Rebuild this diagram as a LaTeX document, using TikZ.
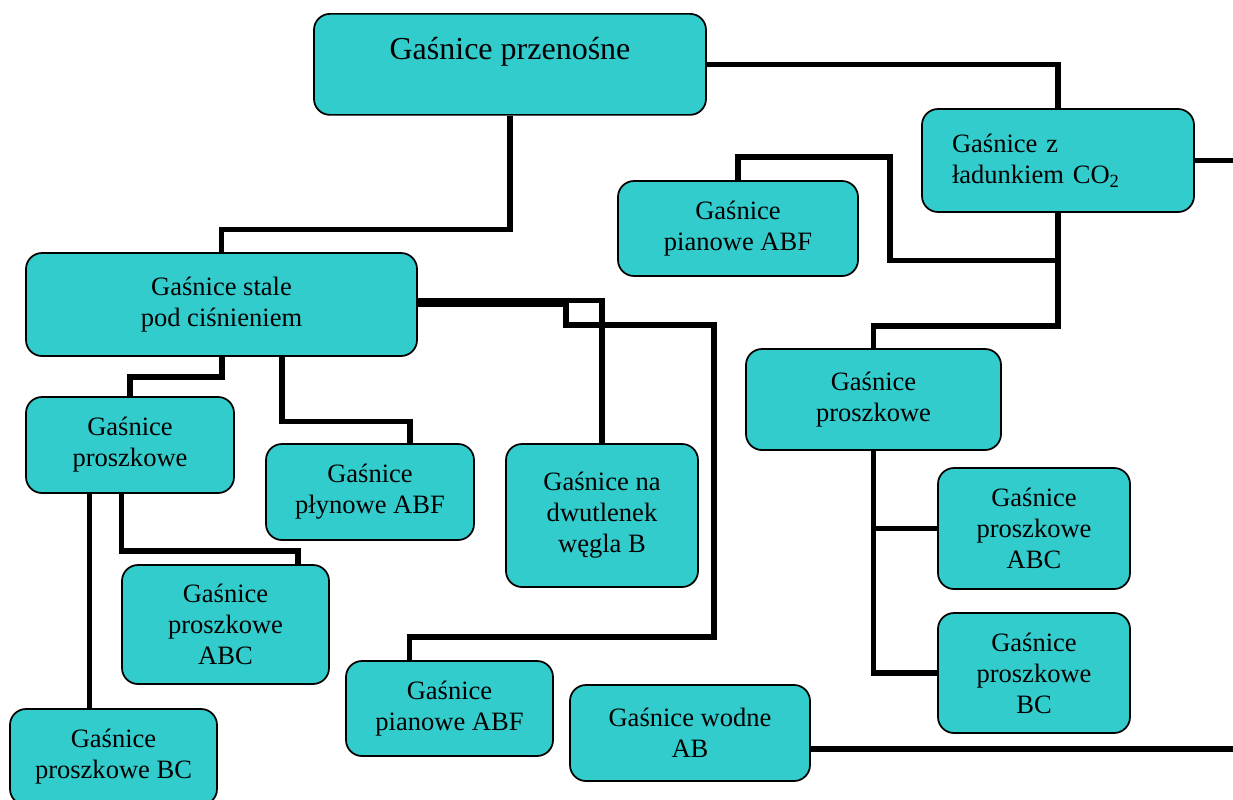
\documentclass[tikz,border=0pt]{standalone}
\usepackage{fontspec}
\setmainfont{Liberation Serif}
\definecolor{boxfill}{RGB}{51,204,204}
\pgfdeclarelayer{bg}
\pgfsetlayers{bg,main}
\begin{document}
\begin{tikzpicture}[x=0.75pt,y=-0.75pt,
  box/.style={draw=black, line width=1.3pt, fill=boxfill, rounded corners=12pt,
    align=center, inner sep=0pt, font=\fontsize{19.9}{23.25}\selectfont},
  conn/.style={draw=black, line width=4.1pt}]
\useasboundingbox (0,0) rectangle (1233,800);

% boxes
\node[box, anchor=north, minimum width=392*0.75pt, text height=34.5pt, text depth=41.25pt,
  font=\fontsize{24}{28}\selectfont] (t) at (510,13) {Gaśnice przenośne};
\node[box, minimum width=272*0.75pt, minimum height=103*0.75pt, align=left,
  text width=212*0.75pt, inner xsep=22.5pt] (co) at (1058,160.5)
  {Gaśnice z\\ładunkiem CO\textsubscript{2}};
\node[box, minimum width=240*0.75pt, minimum height=95*0.75pt] (pt) at (738,228.5) {Gaśnice\\pianowe ABF};
\node[box, minimum width=391*0.75pt, minimum height=103*0.75pt] (s) at (221.5,304.5) {Gaśnice stale\\pod ciśnieniem};
\node[box, minimum width=208*0.75pt, minimum height=96*0.75pt] (pl) at (130,445) {Gaśnice\\proszkowe};
\node[box, minimum width=208*0.75pt, minimum height=96*0.75pt] (pf) at (370,492) {Gaśnice\\płynowe ABF};
\node[box, minimum width=192*0.75pt, minimum height=143*0.75pt] (d) at (602,515.5) {Gaśnice na\\dwutlenek\\węgla B};
\node[box, minimum width=207*0.75pt, minimum height=119*0.75pt] (al) at (225.5,624.5) {Gaśnice\\proszkowe\\ABC};
\node[box, minimum width=207*0.75pt, minimum height=96*0.75pt] (bl) at (113.5,757) {Gaśnice\\proszkowe BC};
\node[box, minimum width=207*0.75pt, minimum height=95*0.75pt] (pb) at (449.5,708.5) {Gaśnice\\pianowe ABF};
\node[box, minimum width=240*0.75pt, minimum height=96*0.75pt] (w) at (690,733) {Gaśnice wodne\\AB};
\node[box, minimum width=255*0.75pt, minimum height=101*0.75pt] (pr) at (873.5,399.5) {Gaśnice\\proszkowe};
\node[box, minimum width=192*0.75pt, minimum height=121*0.75pt] (ar) at (1034,528.5) {Gaśnice\\proszkowe\\ABC};
\node[box, minimum width=192*0.75pt, minimum height=120*0.75pt] (br) at (1034,673) {Gaśnice\\proszkowe\\BC};

\coordinate (e1) at (1240,162);
\coordinate (e2) at (1240,749);

\begin{pgfonlayer}{bg}
% title connectors
\draw[conn] (t.south) -- ++(0,114) -| (s.north);
\draw[conn] (t.east) -| (co.north);
\draw[conn] (co.east) -- (co.east -| e1);
% CO2 branch
\draw[conn] (co.south) |- (890,260.5) -- (890,157) -| (pt.north);
\draw[conn] (co.south) -- ++(0,113) -| (pr.north);
\draw[conn] (pr.south) |- (ar.west);
\draw[conn] (pr.south) |- (br.west);
% water
\draw[conn] ([yshift=-12pt]w.east) -- (e2);
% stale branch
\draw[conn] ([xshift=0.375pt]s.south) -- ++(0,20) -| (pl.north);
\draw[conn] ([xshift=45.375pt]s.south) -- ++(0,64.5) -| ([xshift=30pt]pf.north);
\draw[conn] ([yshift=3pt]s.east) -| (d.north);
\draw[conn] (s.east) -| (566,325) -| (714,637) -| ([xshift=-30pt]pb.north);
% left proszkowe
\draw[conn] ([xshift=-30.375pt]pl.south) -- ([xshift=-18pt]bl.north);
\draw[conn] ([xshift=-6.2pt]pl.south) -- ++(0,57) -| ([xshift=54.4pt]al.north);
\end{pgfonlayer}
\end{tikzpicture}
\end{document}
